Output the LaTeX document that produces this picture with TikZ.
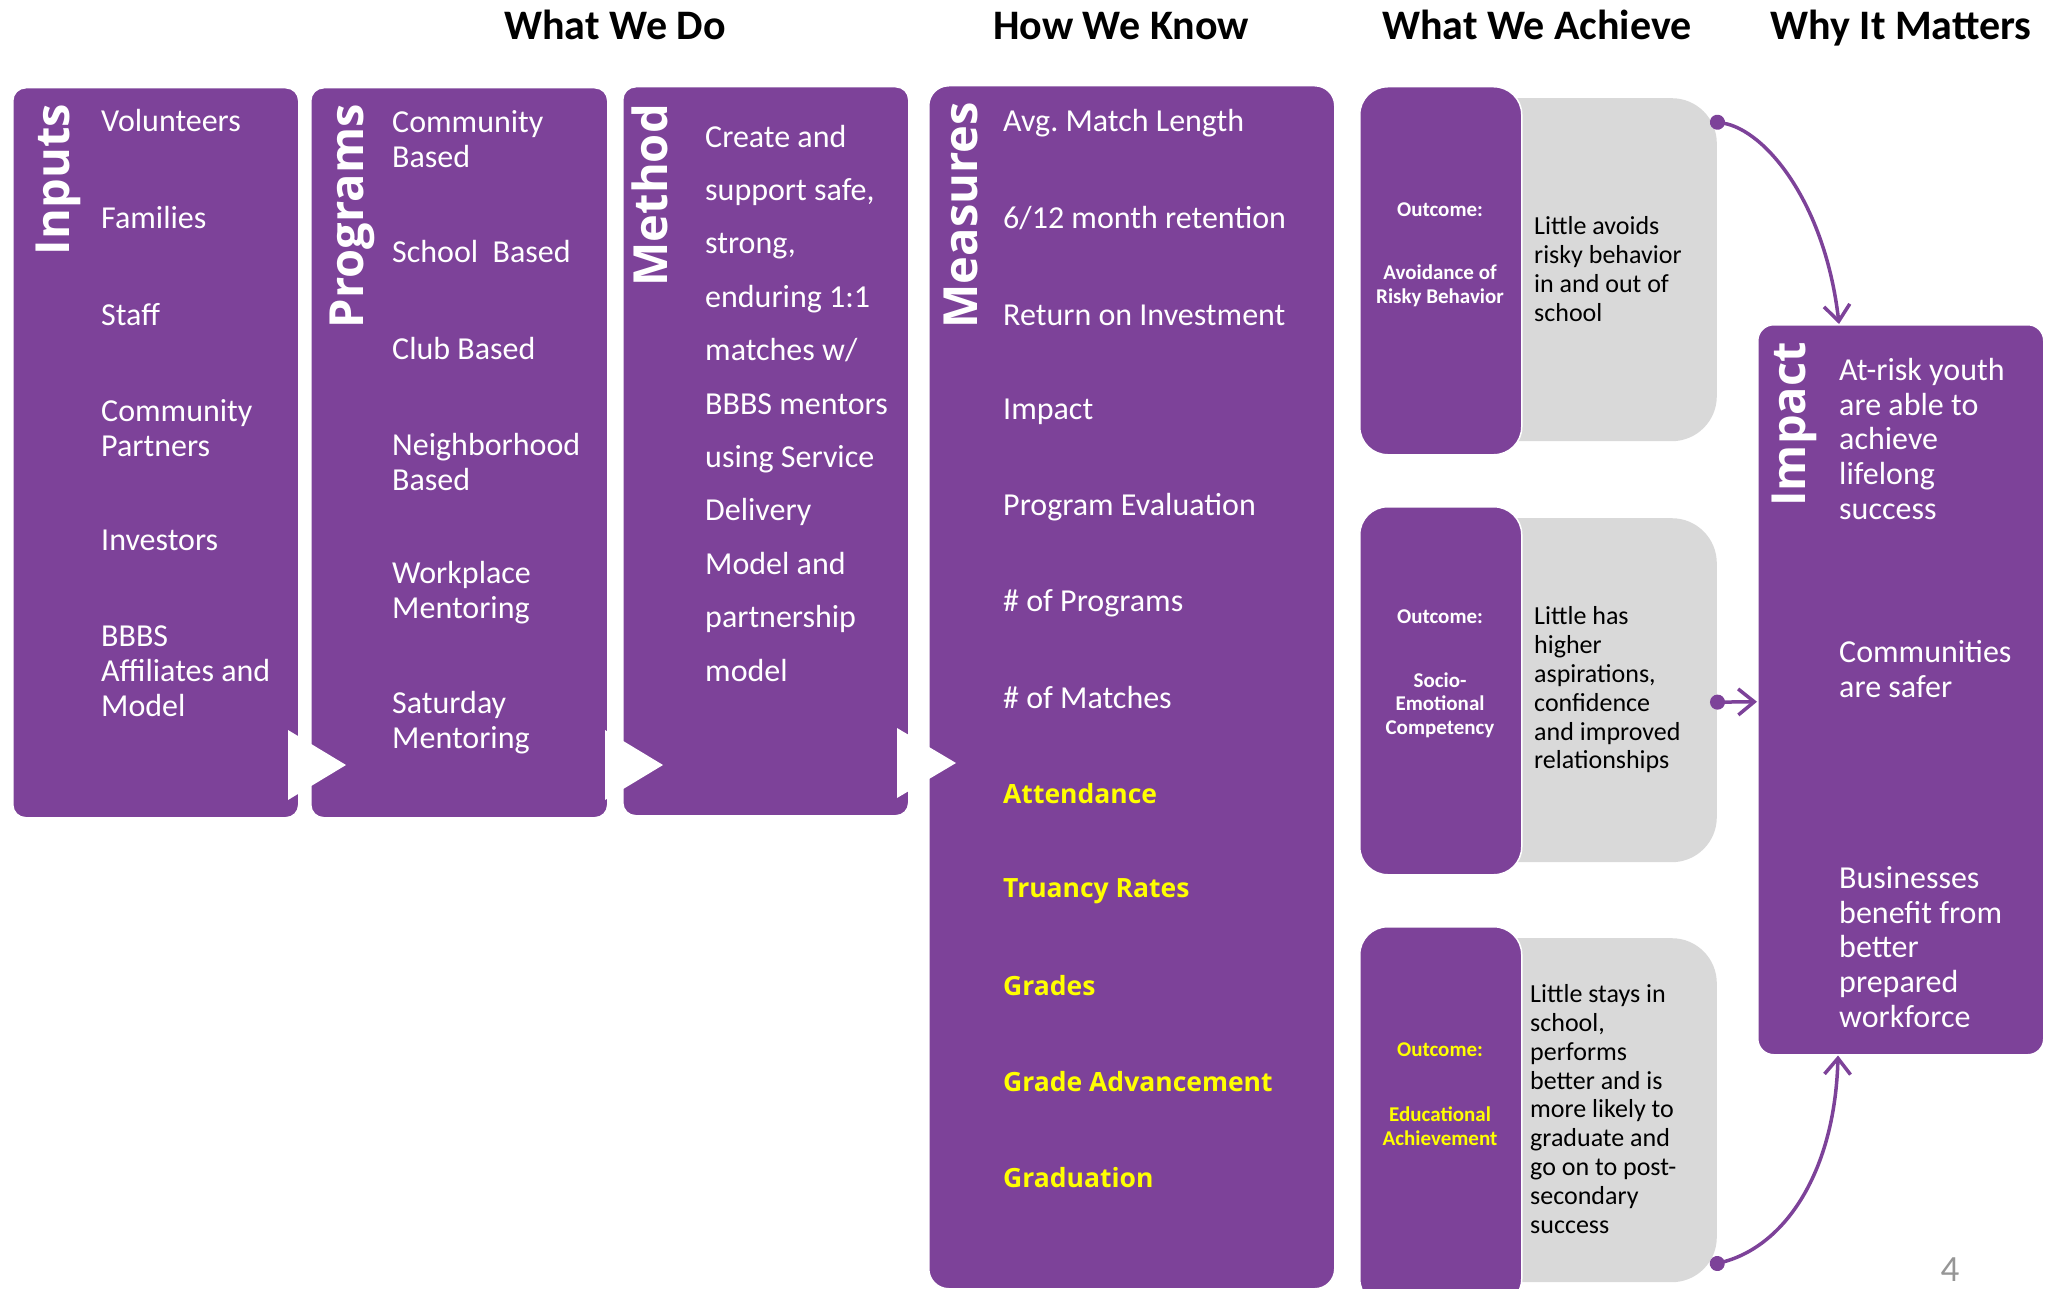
\documentclass[tikz,border=0pt]{standalone}
\usepackage{fontspec}
\setmainfont{Carlito}
\newfontfamily\widefont{Open Sans}
\usetikzlibrary{arrows.meta}
\definecolor{bbbspurple}{RGB}{125,66,153}
\definecolor{bbbsgrey}{RGB}{217,217,217}
\definecolor{bbbsyellow}{RGB}{255,255,0}
\definecolor{pagegrey}{RGB}{150,150,150}

\tikzset{
  colbox/.style={fill=bbbspurple, draw=white, line width=1.5pt, rounded corners=13pt, anchor=north west, inner sep=0pt},
  outbox/.style={colbox, rounded corners=28pt},
  greybox/.style={fill=bbbsgrey, rounded corners=45pt, anchor=north east, inner sep=0pt},
  coltitle/.style={rotate=90, anchor=base east, inner sep=0pt, text=white, font=\widefont\bfseries\fontsize{47}{52}\selectfont},
  item/.style={anchor=west, inner sep=0pt, text=white, align=left, font=\fontsize{32}{35}\selectfont},
  yitem/.style={item, text=bbbsyellow, font=\widefont\bfseries\fontsize{26.5}{30}\selectfont},
  head/.style={anchor=base, inner sep=0pt, font=\bfseries\fontsize{42}{46}\selectfont},
  outlabel/.style={text=white, align=center, inner sep=0pt, font=\bfseries\fontsize{21}{23.5}\selectfont},
  greytext/.style={anchor=west, align=left, inner sep=0pt, font=\fontsize{26}{28.8}\selectfont},
  link/.style={bbbspurple, line width=3.5pt, {Circle[length=15pt]}-{Straight Barb[length=16pt,width=26pt]}}
}

\begin{document}
\begin{tikzpicture}[x=1pt, y=-1pt]
    \useasboundingbox (0,0) rectangle (2047,1289);

    % column headers
    \node[head] (hdo) at (615,40) {What We Do};
    \node[head] (hknow) at (1121,40) {How We Know};
    \node[head] (hachieve) at (1537,40) {What We Achieve};
    \node[head] (hmatter) at (1901,40) {Why It Matters};

    % purple columns
    \node[colbox, minimum width=286, minimum height=730] (inputs) at (12,87) {};
    \node[colbox, minimum width=297, minimum height=730] (programs) at (310,87) {};
    \node[colbox, minimum width=286, minimum height=729] (method) at (622,86) {};
    \node[colbox, rounded corners=20pt, minimum width=406, minimum height=1203] (measures) at (928,85) {};

    % grey result panels, then the outcome boxes over them
    \node[greybox, minimum width=277, minimum height=343] (g1) at (1717,98) {};
    \node[greybox, minimum width=277, minimum height=344] (g2) at (1717,518) {};
    \node[greybox, minimum width=277, minimum height=344] (g3) at (1717,938) {};
    \node[outbox, minimum width=162, minimum height=368] (o1) at (1359,86) {};
    \node[outbox, minimum width=162, minimum height=368] (o2) at (1359,506) {};
    \node[outbox, minimum width=162, minimum height=380] (o3) at (1359,926) {};
    \node[colbox, rounded corners=16pt, minimum width=286, minimum height=730] (impact) at (1757,324) {};

    % white chevrons between the columns
    \fill[white] (288,730) -- (346,765) -- (288,800) -- cycle;
    \fill[white] (605,730) -- (663,765) -- (605,800) -- cycle;
    \fill[white] (897,728) -- (956,763) -- (897,798) -- cycle;

    % rotated column titles
    \node[coltitle] (tinputs) at (69,104) {Inputs};
    \node[coltitle] (tprograms) at (363,104) {Programs};
    \node[coltitle] (tmethod) at (667,104) {Method};
    \node[coltitle] (tmeasures) at (977,102) {Measures};
    \node[coltitle] (timpact) at (1805,342) {Impact};

    % column items
    \foreach \y/\txt [count=\i] in {121/Volunteers, 218/Families, 315/Staff, 428/{Community\\Partners}, 540/Investors, 671/{BBBS\\Affiliates and\\Model}}
        \node[item] (inp\i) at (101,\y) {\txt};
    \foreach \y/\txt [count=\i] in {139/{Community\\Based}, 252/School~~Based, 349/Club Based, 462/{Neighborhood\\Based}, 593/{Workplace\\Mentoring}, 723/{Saturday\\Mentoring}}
        \node[item] (prg\i) at (392,\y) {\txt};
    \node[item, font=\fontsize{32}{53.4}\selectfont] (mtd) at (705,403)
        {Create and\\support safe,\\strong,\\enduring 1:1\\matches w/\\BBBS mentors\\using Service\\Delivery\\Model and\\partnership\\model};
    \foreach \y/\txt [count=\i] in {123/{Avg.\ Match Length}, 218/{6/12 month retention}, 315/Return on Investment, 412/Impact, 507/Program Evaluation, 603/\# of Programs, 698/\# of Matches}
        \node[item] (msr\i) at (1003,\y) {\txt};
    \foreach \y/\txt [count=\i] in {794/Attendance, 891/Truancy Rates, 986/Grades, 1082/Grade Advancement, 1178/Graduation}
        \node[yitem] (msy\i) at (1003,\y) {\txt};

    % outcomes
    \node[outlabel] (o1head) at (1440,210) {Outcome:};
    \node[outlabel] (o1name) at (1440,286) {Avoidance of\\Risky Behavior};
    \node[outlabel] (o2head) at (1440,617) {Outcome:};
    \node[outlabel] (o2name) at (1440,705) {Socio-\\Emotional\\Competency};
    \node[outlabel, text=bbbsyellow] (o3head) at (1440,1050) {Outcome:};
    \node[outlabel, text=bbbsyellow] (o3name) at (1440,1126) {Educational\\Achievement};
    \node[greytext] (g1txt) at (1534,269) {Little avoids\\risky behavior\\in and out of\\school};
    \node[greytext] (g2txt) at (1534,690) {Little has\\higher\\aspirations,\\confidence\\and improved\\relationships};
    \node[greytext] (g3txt) at (1530,1109) {Little stays in\\school,\\performs\\better and is\\more likely to\\graduate and\\go on to post-\\secondary\\success};

    % impact items
    \node[item, font=\fontsize{32}{34.6}\selectfont] (imp1) at (1839,439) {At-risk youth\\are able to\\achieve\\lifelong\\success};
    \node[item, font=\fontsize{32}{34.6}\selectfont] (imp2) at (1839,669) {Communities\\are safer};
    \node[item, font=\fontsize{32}{34.6}\selectfont] (imp3) at (1839,947) {Businesses\\benefit from\\better\\prepared\\workforce};

    % links into the impact box
    \draw[link] ([xshift=-7pt, yshift=-23pt]g1.north east) .. controls +(55pt,-9pt) and +(-14pt,122pt) .. ([xshift=82pt]impact.north west);
    \draw[link] ([xshift=-7pt, yshift=-12pt]g2.east) -- ([yshift=-12pt]impact.west);
    \draw[link] ([xshift=-7pt, yshift=17pt]g3.south east) .. controls +(76pt,20pt) and +(-3pt,-115pt) .. ([xshift=81pt]impact.south west);

    % page number
    \node[text=pagegrey, font=\fontsize{37}{40}\selectfont] (pagenum) at (1950,1270) {4};
\end{tikzpicture}
\end{document}
